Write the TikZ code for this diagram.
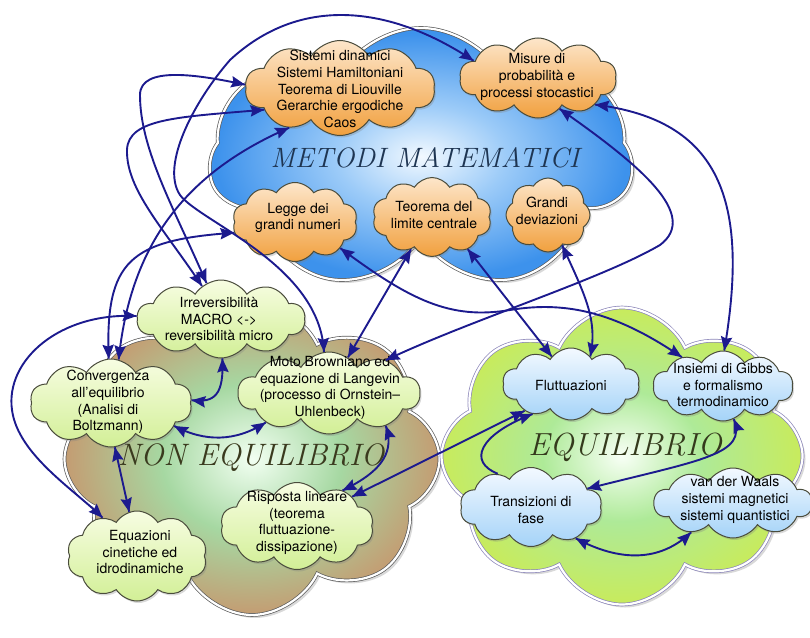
\documentclass[tikz,border=0pt]{standalone}
\usepackage{fontspec}
\setsansfont{TeX Gyre Heros}
\usetikzlibrary{shapes.symbols,shadows,decorations.markings}

\definecolor{arrowc}{HTML}{1C1A8E}
\definecolor{blueI}{HTML}{F2F9FF}
\definecolor{blueM}{HTML}{9CCBF8}
\definecolor{blueO}{HTML}{3D92EC}
\definecolor{neI}{HTML}{F2FFF2}
\definecolor{neM}{HTML}{A6D8A2}
\definecolor{neO}{HTML}{C49C72}
\definecolor{eqI}{HTML}{F8FFF6}
\definecolor{eqM}{HTML}{AEEA98}
\definecolor{eqO}{HTML}{C8EB5C}
\definecolor{orT}{HTML}{FDE6CA}
\definecolor{orB}{HTML}{F1A03E}
\definecolor{grT}{HTML}{F7FDE2}
\definecolor{grB}{HTML}{D2EF96}
\definecolor{blT}{HTML}{F3F9FF}
\definecolor{blB}{HTML}{A4D3F8}
\definecolor{edgec}{HTML}{4A4C3C}
\definecolor{eqedge}{HTML}{8A84B8}
\definecolor{mmtext}{HTML}{1E3552}
\definecolor{netext}{HTML}{3A3A1E}
\definecolor{eqtext}{HTML}{343A1C}

\pgfdeclareradialshading{blueshade}{\pgfpoint{0bp}{0bp}}{color(0bp)=(blueI); color(10bp)=(blueM); color(24bp)=(blueO); color(50bp)=(blueO)}
\pgfdeclareradialshading{noneqshade}{\pgfpoint{0bp}{0bp}}{color(0bp)=(neI); color(12bp)=(neM); color(25bp)=(neO); color(50bp)=(neO)}
\pgfdeclareradialshading{eqshade}{\pgfpoint{0bp}{0bp}}{color(0bp)=(eqI); color(11bp)=(eqM); color(25bp)=(eqO); color(50bp)=(eqO)}

\tikzset{
  bigcloud/.style={cloud, cloud ignores aspect, inner sep=0pt, draw=gray!70!black,
    double=white, double distance=2.2pt, line width=0.7pt,
    drop shadow={opacity=0.3, shadow xshift=3pt, shadow yshift=-3pt}},
  smallcloud/.style={cloud, cloud ignores aspect, cloud puffs=10, cloud puff arc=115,
    inner sep=0pt, draw=edgec, line width=1pt,
    drop shadow={opacity=0.3, shadow xshift=1.5pt, shadow yshift=-2pt}},
  orangec/.style={smallcloud, top color=orT, bottom color=orB},
  greenc/.style={smallcloud, top color=grT, bottom color=grB},
  bluec/.style={smallcloud, top color=blT, bottom color=blB},
  lbl/.style={font=\sffamily\fontsize{14}{16.7}\selectfont, align=center, text=black, inner sep=0pt},
  ttl/.style={inner sep=0pt},
  conn/.style={draw=arrowc, line width=1.9pt,
    postaction={decorate, decoration={markings,
      mark=at position 0 with {\fill[arrowc] (0pt,0pt) -- (14pt,5.8pt) -- (12pt,0pt) -- (14pt,-5.8pt) -- cycle;},
      mark=at position 0.9999 with {\fill[arrowc] (0pt,0pt) -- (-14pt,5.8pt) -- (-12pt,0pt) -- (-14pt,-5.8pt) -- cycle;}}}},
}

\begin{document}
\begin{tikzpicture}[x=1pt,y=-1pt]
\useasboundingbox (0,0) rectangle (810,637);

% big clouds
\node[bigcloud, shade, shading=blueshade, minimum width=422pt, minimum height=264pt, cloud puffs=7, cloud puff arc=140] (mm) at (421,160) {};
\node[bigcloud, shade, shading=noneqshade, minimum width=375pt, minimum height=312pt, cloud puffs=8, cloud puff arc=130] (ne) at (252,459) {};
\node[bigcloud, draw=eqedge, shade, shading=eqshade, minimum width=361pt, minimum height=297pt, cloud puffs=8, cloud puff arc=130] (eq) at (622,456) {};

% titles
\node[ttl, font=\fontsize{28}{28}\selectfont\itshape, text=mmtext] (mmt) at (425,158) {METODI MATEMATICI};
\node[ttl, font=\fontsize{31}{31}\selectfont\itshape, text=netext] (net) at (251,458) {NON EQUILIBRIO};
\node[ttl, font=\fontsize{32}{32}\selectfont\itshape, text=eqtext] (eqt) at (625,447) {EQUILIBRIO};

% small clouds
\node[orangec, minimum width=190pt, minimum height=95pt] (A) at (340,88) {};
\node[orangec, minimum width=157pt, minimum height=80pt] (B) at (538,78) {};
\node[orangec, minimum width=125pt, minimum height=79pt] (C) at (295,222) {};
\node[orangec, minimum width=119pt, minimum height=79pt] (D) at (432,217) {};
\node[orangec, minimum width=84pt, minimum height=74pt, cloud puffs=8] (E) at (548,215) {};
\node[greenc, minimum width=168pt, minimum height=78pt] (F) at (221,319) {};
\node[greenc, minimum width=162pt, minimum height=88pt] (G) at (111,403) {};
\node[greenc, minimum width=182pt, minimum height=82pt] (H) at (329,393) {};
\node[greenc, minimum width=153pt, minimum height=87pt] (I) at (297,526) {};
\node[greenc, minimum width=140pt, minimum height=90pt] (J) at (137,556) {};
\node[bluec, minimum width=137pt, minimum height=72pt] (K) at (571,384) {};
\node[bluec, minimum width=140pt, minimum height=70pt] (L) at (723,386) {};
\node[bluec, minimum width=142pt, minimum height=79pt] (M) at (531,507) {};
\node[bluec, minimum width=158pt, minimum height=70pt] (N) at (733,503) {};

% labels
\node[lbl] (At) at (340,89) {Sistemi dinamici\\Sistemi Hamiltoniani\\Teorema di Liouville\\Gerarchie ergodiche\\Caos};
\node[lbl] (Bt) at (537,77) {Misure di\\probabilità e\\processi stocastici};
\node[lbl] (Ct) at (298,218) {Legge dei\\grandi numeri};
\node[lbl] (Dt) at (434,215) {Teorema del\\limite centrale};
\node[lbl] (Et) at (547,211) {Grandi\\deviazioni};
\node[lbl] (Ft) at (219,319) {Irreversibilità\\MACRO <->\\reversibilità micro};
\node[lbl] (Gt) at (108,402) {Convergenza\\all'equilibrio\\(Analisi di\\Boltzmann)};
\node[lbl] (Ht) at (330,388) {Moto Browniano ed\\equazione di Langevin\\(processo di Ornstein–\\Uhlenbeck)};
\node[lbl] (It) at (297,523) {Risposta lineare\\(teorema\\fluttuazione-\\dissipazione)};
\node[lbl] (Jt) at (140,552) {Equazioni\\cinetiche ed\\idrodinamiche};
\node[lbl] (Kt) at (571,385) {Fluttuazioni};
\node[lbl] (Lt) at (723,385) {Insiemi di Gibbs\\e formalismo\\termodinamico};
\node[lbl] (Mt) at (531,510) {Transizioni di\\fase};
\node[lbl] (Nt) at (735,500) {van der Waals\\sistemi magnetici\\sistemi quantistici};

% connectors
\draw[conn] (A.178) .. controls (200,75) and (140,65) .. (140,95) .. controls (140,150) and (175,210) .. (F.112);
\draw[conn] (A.196) .. controls (180,117) and (128,118) .. (127,150) .. controls (126,190) and (165,230) .. (F.120);
\draw[conn] (A.218) .. controls (180,175) and (130,250) .. (G.80);
\draw[conn] (C.190) .. controls (130,240) and (105,260) .. (G.93);
\draw[conn] (B.165) .. controls (390,5) and (300,-5) .. (230,60) .. controls (195,100) and (160,165) .. (180,195) .. controls (200,222) and (320,265) .. (H.97);
\draw[conn] (F.178) .. controls (60,312) and (5,360) .. (12,410) .. controls (18,455) and (75,490) .. (J.132);
\draw[conn] (F.272) .. controls (224,395) and (215,403) .. (G.2);
\draw[conn] (G.340) .. controls (205,442) and (235,442) .. (H.205);
\draw[conn] (G.275) -- (J.100);
\draw[conn] (H.330) .. controls (394,450) and (385,470) .. (I.38);
\draw[conn] (I.28) -- (K.210);
\draw[conn] (K.218) .. controls (478,435) and (468,462) .. (M.135);
\draw[conn] (L.288) .. controls (748,455) and (700,460) .. (M.18);
\draw[conn] (M.325) .. controls (620,562) and (660,562) .. (N.215);
\draw[conn] (C.330) .. controls (410,300) and (450,320) .. (510,310) .. controls (570,300) and (620,315) .. (L.145);
\draw[conn] (D.237) -- (H.62);
\draw[conn] (D.318) -- (K.125);
\draw[conn] (E.295) .. controls (585,295) and (598,320) .. (K.55);
\draw[conn] (B.305) .. controls (640,165) and (700,215) .. (660,245) .. controls (600,280) and (470,320) .. (H.30);
\draw[conn] (B.335) .. controls (720,120) and (750,200) .. (L.88);
\end{tikzpicture}
\end{document}
